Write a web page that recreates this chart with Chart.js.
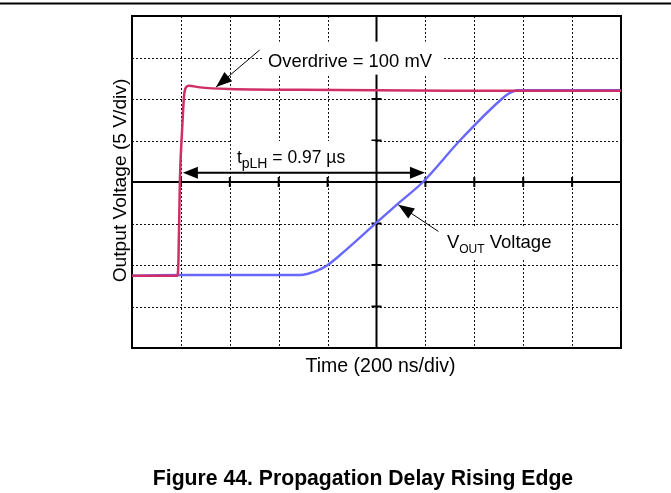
<!DOCTYPE html>
<html>
<head>
<meta charset="utf-8">
<script src="https://cdn.jsdelivr.net/npm/chart.js@4.4.1/dist/chart.umd.min.js"></script>
<style>
  html, body { margin: 0; padding: 0; background: #fff; }
  #wrap { position: relative; width: 671px; height: 493px; }
</style>
</head>
<body>
<div id="wrap"><canvas id="scope"></canvas></div>
<script>
// Base de temps : 200 ns/div sur 10 divisions, 5 V/div sur 8 divisions
const xTicks = [0, 200, 400, 600, 800, 1000, 1200, 1400, 1600, 1800, 2000];
const yTicks = [-20, -15, -10, -5, 0, 5, 10, 15, 20];

// Trace d'entrée (overdrive 100 mV) - rouge
const inputTimeNs = [0, 186, 190, 196, 205, 213, 221, 233, 278, 401, 687, 1300, 2000];
const inputVolts = [-11.3, -11.3, -9.4, 0.3, 6.3, 10.4, 11.4, 11.6, 11.4, 11.2, 11.1, 11.0, 11.0];

// Trace de sortie VOUT - bleu
const outputTimeNs = [0, 200, 483, 687, 720, 753, 796, 851, 1000, 1096, 1190, 1341, 1512, 1538, 1558, 1579, 2000];
const outputVolts = [-11.3, -11.2, -11.2, -11.2, -11.05, -10.75, -10.1, -8.8, -4.9, -2.4, 0, 5.0, 10.0, 10.6, 10.9, 11.05, 11.05];

// Annotations (coordonnées en unités du graphe : ns, V)
const tplhArrow = { x1: 208, x2: 1198, y: 1.1 };
const overdriveArrow = { fromX: 522, fromY: 15.9, toX: 344, toY: 11.45 };
const voutArrow = { fromX: 1253, fromY: -5.95, toX: 1089, toY: -2.74 };

const FONT = '"Liberation Sans", Arial, Helvetica, sans-serif';

function toPts(xs, ys) {
  return xs.map((x, i) => ({ x: x, y: ys[i] }));
}

function arrowHead(ctx, tipX, tipY, fromX, fromY, len, half) {
  const a = Math.atan2(tipY - fromY, tipX - fromX);
  const bx = tipX - len * Math.cos(a);
  const by = tipY - len * Math.sin(a);
  ctx.beginPath();
  ctx.moveTo(tipX, tipY);
  ctx.lineTo(bx + half * Math.sin(a), by - half * Math.cos(a));
  ctx.lineTo(bx - half * Math.sin(a), by + half * Math.cos(a));
  ctx.closePath();
  ctx.fill();
}

// texte avec indice : parts = [{t, size, dy}]
function drawParts(ctx, parts, x, y) {
  let cx = x;
  parts.forEach((p) => {
    ctx.font = p.size + 'px ' + FONT;
    ctx.fillText(p.t, cx, y + (p.dy || 0));
    cx += ctx.measureText(p.t).width;
  });
  return cx - x;
}

const scopePlugin = {
  id: 'scope',
  beforeDatasetsDraw(chart) {
    const ctx = chart.ctx;
    const a = chart.chartArea;
    const xs = chart.scales.x;
    const ys = chart.scales.y;
    ctx.save();
    ctx.fillStyle = '#fff';
    ctx.fillRect(0, 0, chart.width, chart.height);

    // trait en haut de page
    ctx.fillStyle = '#000';
    ctx.fillRect(0, 2.5, chart.width, 2);

    // grille pointillée
    ctx.strokeStyle = '#111';
    ctx.lineWidth = 1;
    ctx.setLineDash([2, 2]);
    xTicks.slice(1, -1).forEach((v) => {
      if (v === 1000) return;
      const px = Math.round(xs.getPixelForValue(v)) + 0.5;
      ctx.beginPath();
      ctx.moveTo(px, a.top);
      ctx.lineTo(px, a.bottom);
      ctx.stroke();
    });
    yTicks.slice(1, -1).forEach((v) => {
      if (v === 0) return;
      const py = Math.round(ys.getPixelForValue(v)) + 0.5;
      ctx.beginPath();
      ctx.moveTo(a.left, py);
      ctx.lineTo(a.right, py);
      ctx.stroke();
    });
    ctx.setLineDash([]);

    // axes centraux avec graduations
    const cx = xs.getPixelForValue(1000);
    const cy = ys.getPixelForValue(0);
    ctx.strokeStyle = '#000';
    ctx.lineWidth = 2;
    ctx.beginPath();
    ctx.moveTo(cx, a.top);
    ctx.lineTo(cx, a.bottom);
    ctx.moveTo(a.left, cy);
    ctx.lineTo(a.right, cy);
    yTicks.forEach((v) => {
      const py = ys.getPixelForValue(v);
      ctx.moveTo(cx - 5, py);
      ctx.lineTo(cx + 5, py);
    });
    xTicks.forEach((v) => {
      const px = xs.getPixelForValue(v);
      ctx.moveTo(px, cy - 5);
      ctx.lineTo(px, cy + 5);
    });
    ctx.stroke();

    // cadre
    ctx.strokeRect(a.left, a.top, a.right - a.left, a.bottom - a.top);
    ctx.restore();
  },
  afterDatasetsDraw(chart) {
    const ctx = chart.ctx;
    const xs = chart.scales.x;
    const ys = chart.scales.y;
    const X = (v) => xs.getPixelForValue(v);
    const Y = (v) => ys.getPixelForValue(v);
    ctx.save();
    ctx.textBaseline = 'alphabetic';
    ctx.textAlign = 'left';

    // Overdrive = 100 mV
    ctx.font = '18.4px ' + FONT;
    const odText = 'Overdrive = 100 mV';
    const odX = X(556), odY = Y(13.9);
    const odW = ctx.measureText(odText).width;
    ctx.fillStyle = '#fff';
    ctx.fillRect(odX - 6, odY - 25, odW + 18, 33);
    ctx.fillStyle = '#000';
    ctx.fillText(odText, odX, odY);

    // tpLH = 0.97 µs
    const tpX = X(429), tpY = Y(2.29);
    ctx.fillStyle = '#fff';
    ctx.fillRect(tpX - 6, tpY - 22, 144, 30);
    ctx.fillStyle = '#000';
    drawParts(ctx, [
      { t: 't', size: 17.5 },
      { t: 'pLH', size: 14, dy: 5 },
      { t: ' = 0.97 µs', size: 17.5 }
    ], tpX, tpY);

    // VOUT Voltage
    const voX = X(1288), voY = Y(-7.95);
    ctx.fillStyle = '#fff';
    ctx.fillRect(voX - 7, voY - 20, 120, 30);
    ctx.fillStyle = '#000';
    drawParts(ctx, [
      { t: 'V', size: 18.5 },
      { t: 'OUT', size: 12, dy: 5 },
      { t: ' Voltage', size: 18.5 }
    ], voX, voY);

    // flèche double tpLH
    ctx.strokeStyle = '#000';
    ctx.fillStyle = '#000';
    const ty = Y(tplhArrow.y);
    const tx1 = X(tplhArrow.x1), tx2 = X(tplhArrow.x2);
    ctx.lineWidth = 2;
    ctx.beginPath();
    ctx.moveTo(tx1 + 10, ty);
    ctx.lineTo(tx2 - 10, ty);
    ctx.stroke();
    arrowHead(ctx, tx1, ty, tx2, ty, 15, 6);
    arrowHead(ctx, tx2, ty, tx1, ty, 15, 6);

    // flèches fines
    ctx.lineWidth = 1;
    [overdriveArrow, voutArrow].forEach((ar) => {
      const fx = X(ar.fromX), fy = Y(ar.fromY);
      const tx = X(ar.toX), tyy = Y(ar.toY);
      ctx.beginPath();
      ctx.moveTo(fx, fy);
      ctx.lineTo(tx, tyy);
      ctx.stroke();
      arrowHead(ctx, tx, tyy, fx, fy, 16, 6);
    });
    ctx.restore();
  },
  afterDraw(chart) {
    const ctx = chart.ctx;
    const a = chart.chartArea;
    ctx.save();
    ctx.fillStyle = '#000';
    ctx.textBaseline = 'alphabetic';
    ctx.textAlign = 'center';

    // titre axe X
    ctx.font = '19.5px ' + FONT;
    ctx.fillText('Time (200 ns/div)', (a.left + a.right) / 2 + 4, a.bottom + 23.5);

    // titre axe Y
    ctx.save();
    ctx.translate(125.5, (a.top + a.bottom) / 2 - 1.5);
    ctx.rotate(-Math.PI / 2);
    ctx.font = '19.2px ' + FONT;
    ctx.fillText('Output Voltage (5 V/div)', 0, 0);
    ctx.restore();

    // légende de la figure
    ctx.font = 'bold 21.2px ' + FONT;
    ctx.fillText('Figure 44. Propagation Delay Rising Edge', 363, 485);
    ctx.restore();
  }
};

const chart = new Chart(document.getElementById('scope'), {
  type: 'line',
  data: {
    datasets: [
      {
        label: 'Input',
        data: toPts(inputTimeNs, inputVolts),
        borderColor: 'rgb(208, 46, 102)',
        borderWidth: 2.5,
        pointRadius: 0,
        cubicInterpolationMode: 'monotone',
        order: 0
      },
      {
        label: 'VOUT',
        data: toPts(outputTimeNs, outputVolts),
        borderColor: 'rgb(104, 104, 255)',
        borderWidth: 2.4,
        pointRadius: 0,
        cubicInterpolationMode: 'monotone',
        order: 1
      }
    ]
  },
  options: {
    responsive: true,
    maintainAspectRatio: false,
    animation: false,
    layout: { padding: { left: 132, top: 16, right: 50, bottom: 145 } },
    scales: {
      x: { type: 'linear', min: 0, max: 2000, display: false },
      y: { type: 'linear', min: -20, max: 20, display: false }
    },
    plugins: {
      legend: { display: false },
      tooltip: { enabled: false }
    }
  },
  plugins: [scopePlugin]
});
</script>
</body>
</html>
